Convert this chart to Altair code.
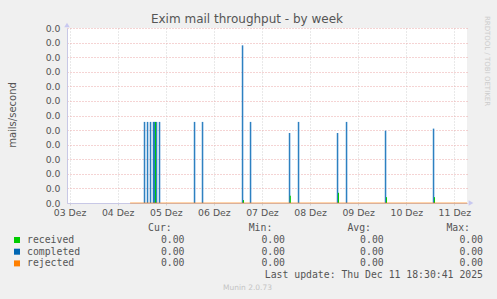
import json
import altair as alt
import pandas as pd

# ---------------- data (x = hours since 03 Dez 2025 00:00, y = mails/second) ----------------
completed_hours = [49.30, 50.80, 52.29, 53.79, 54.29, 55.29, 56.78, 74.25, 78.24,
                   98.20, 102.19, 121.65, 126.14, 145.60, 150.09, 169.55, 193.50]
completed_vals = [0.00556, 0.00556, 0.00556, 0.00556, 0.00556, 0.00556, 0.00556, 0.00556, 0.00556,
                  0.01081, 0.00556, 0.00480, 0.00556, 0.00480, 0.00556, 0.00496, 0.00510]

received_hours = [54.89, 98.80, 122.15, 146.20, 170.15, 194.10]
received_vals = [0.00556, 0.00020, 0.00050, 0.00070, 0.00040, 0.00040]

rejected_hours = [42.2, 210.3]
rejected_vals = [0.0, 0.0]

day_labels = ["03 Dez", "04 Dez", "05 Dez", "06 Dez", "07 Dez", "08 Dez", "09 Dez", "10 Dez", "11 Dez"]
x_domain = [10.73, 210.3]
y_max = 0.012

series = ["received", "completed", "rejected"]
series_colors = ["#00CC00", "#0066B3", "#FF8000"]
cur_vals = ["0.00", "0.00", "0.00"]
min_vals = ["0.00", "0.00", "0.00"]
avg_vals = ["0.00", "0.00", "0.00"]
max_vals = ["0.00", "0.00", "0.00"]
last_update = "Last update: Thu Dec 11 18:30:41 2025"
title_text = "Exim mail throughput - by week"
y_title = "mails/second"
footer = "Munin 2.0.73"
side_text = "RRDTOOL / TOBI OETIKER"

# ---------------- tables ----------------
comp_df = pd.DataFrame({"h": completed_hours, "v": completed_vals})
recv_df = pd.DataFrame({"h": received_hours, "v": received_vals})
rej_df = pd.DataFrame({"h": rejected_hours, "v": rejected_vals})
leg_df = pd.DataFrame({"row": list(range(len(series))), "name": series, "color": series_colors,
                       "cur": cur_vals, "min": min_vals, "avg": avg_vals, "max": max_vals})

TXT = "#555555"
MONO = "DejaVu Sans Mono"
SANS = "DejaVu Sans"
RED_GRID = "#EBA9A9"
GREY_GRID = "#D2D2D2"
AXIS_COL = "#C8C8E6"

label_expr = ("datum.value % 24 === 12 ? " + json.dumps(day_labels) +
              "[floor(datum.value / 24)] : ''")

x_scale = alt.Scale(domain=x_domain, nice=False, zero=False)
y_scale = alt.Scale(domain=[0, y_max], nice=False)

x_axis = alt.Axis(
    values=list(range(12, 211, 6)),
    labelExpr=label_expr,
    grid=True,
    gridColor={"condition": {"test": "datum.value % 24 === 0", "value": RED_GRID}, "value": GREY_GRID},
    gridDash=[1, 2],
    tickSize=2,
    tickColor={"condition": {"test": "datum.value % 24 === 0", "value": RED_GRID}, "value": GREY_GRID},
    domainColor=AXIS_COL,
    labelFont=SANS, labelFontSize=9.3, labelColor=TXT, labelPadding=3,
    labelOverlap=False, labelFlush=False, title=None,
)
y_axis = alt.Axis(
    values=[i / 1000 for i in range(13)],
    format=".1f",
    grid=True, gridColor=RED_GRID, gridDash=[1, 2],
    ticks=False, domainColor=AXIS_COL,
    labelFont=SANS, labelFontSize=9.3, labelColor=TXT, labelPadding=7, title=None,
)

completed_main = alt.Chart(comp_df).mark_rule(color="#0066B3", strokeWidth=1.0).encode(
    x=alt.X("h:Q", scale=x_scale, axis=x_axis),
    y=alt.Y("v:Q", scale=y_scale, axis=y_axis),
    y2=alt.datum(0),
)
completed_shade = alt.Chart(comp_df).mark_rule(color="#9EC3E6", strokeWidth=0.8, xOffset=1.0).encode(
    x=alt.X("h:Q", scale=x_scale),
    y=alt.Y("v:Q", scale=y_scale, axis=None),
    y2=alt.datum(0),
)
received = alt.Chart(recv_df).mark_rule(color="#00CC00", strokeWidth=1.0).encode(
    x=alt.X("h:Q", scale=x_scale),
    y=alt.Y("v:Q", scale=y_scale, axis=None),
    y2=alt.datum(0),
)
rejected = alt.Chart(rej_df).mark_line(color="#FF8000", strokeWidth=1, opacity=0.65).encode(
    x=alt.X("h:Q", scale=x_scale),
    y=alt.Y("v:Q", scale=y_scale, axis=None),
)

# axis arrows
arrow_up = alt.Chart(rej_df.head(1)).mark_point(shape="triangle-up", filled=True, color="#C8C8F0",
                                                size=30, opacity=1).encode(
    x=alt.value(0), y=alt.value(-3))
arrow_right = alt.Chart(rej_df.head(1)).mark_point(shape="triangle-right", filled=True, color="#C8C8F0",
                                                   size=30, opacity=1).encode(
    x=alt.value(404), y=alt.value(175))

# texts
title = alt.Chart(pd.DataFrame({"t": [title_text]})).mark_text(
    font=SANS, fontSize=12, color=TXT, baseline="middle").encode(
    x=alt.value(180), y=alt.value(-9), text="t:N")
ytitle = alt.Chart(pd.DataFrame({"t": [y_title]})).mark_text(
    font=SANS, fontSize=10, color=TXT, angle=270, baseline="middle").encode(
    x=alt.value(-54), y=alt.value(87), text="t:N")
side = alt.Chart(pd.DataFrame({"t": [side_text]})).mark_text(
    font=SANS, fontSize=7, color="#CCCCCC", angle=90, baseline="middle").encode(
    x=alt.value(420), y=alt.value(33), text="t:N")
foot = alt.Chart(pd.DataFrame({"t": [footer]})).mark_text(
    font=SANS, fontSize=7.5, color="#C4C4C4", baseline="middle").encode(
    x=alt.value(180.5), y=alt.value(260), text="t:N")
upd = alt.Chart(pd.DataFrame({"t": [last_update]})).mark_text(
    font=MONO, fontSize=9.8, color=TXT, align="right", baseline="middle").encode(
    x=alt.value(416), y=alt.value(247), text="t:N")

headers = pd.DataFrame({"t": ["Cur:", "Min:", "Avg:", "Max:"], "xr": [104.7, 205.3, 304.0, 403.0]})
hdr = alt.Chart(headers).mark_text(font=MONO, fontSize=9.8, color=TXT, align="right",
                                   baseline="middle").encode(
    x=alt.X("xr:Q", scale=None), y=alt.value(200.3), text="t:N")

row_scale = alt.Scale(domain=[0, 2], range=[212, 235.4])
leg = alt.Chart(leg_df)
squares = leg.mark_square(size=36, opacity=1).encode(
    x=alt.value(-50),
    y=alt.Y("row:Q", scale=row_scale, axis=None),
    color=alt.Color("color:N", scale=None),
)
names = leg.mark_text(font=MONO, fontSize=9.8, color=TXT, align="left", baseline="middle").encode(
    x=alt.value(-40), y=alt.Y("row:Q", scale=row_scale, axis=None), text="name:N")
cols = []
for field, xr in [("cur", 117.5), ("min", 218.0), ("avg", 316.7), ("max", 416.0)]:
    cols.append(leg.mark_text(font=MONO, fontSize=9.8, color=TXT, align="right", baseline="middle").encode(
        x=alt.value(xr), y=alt.Y("row:Q", scale=row_scale, axis=None), text=f"{field}:N"))

chart = alt.layer(
    completed_shade, completed_main, received, rejected, arrow_up, arrow_right,
    title, ytitle, side, foot, upd, hdr, squares, names, *cols,
).resolve_scale(y="independent").properties(
    width=400, height=175,
    autosize=alt.AutoSizeParams(type="none"),
    padding={"left": 67, "top": 28, "right": 30, "bottom": 96},
).configure(background="#F0F0F0").configure_view(fill="white", stroke=None)

chart.save("out.html", embed_options={"renderer": "svg", "actions": False})
